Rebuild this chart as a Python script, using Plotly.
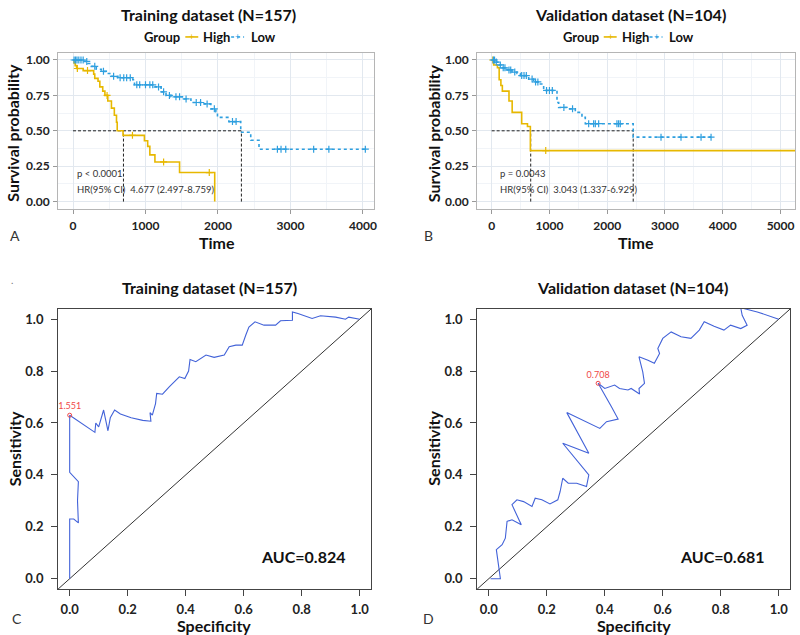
import numpy as np
import plotly.graph_objects as go

W, H = 800, 635
def px(x): return x / W
def py(y): return 1 - y / H

FONT = "Lato"
YEL = "#E7B800"
BLU = "#2E9FDF"
ROC_COL = "#4262d8"

# ---------------- Kaplan-Meier data ----------------
# Training (A)
A_high_t = [0, 15, 30, 50, 140, 285, 300, 345, 370, 410, 440, 480, 530, 570, 600, 610, 690, 985, 1030, 1060, 1130, 1470, 1955]
A_high_s = [1.0, 0.98, 0.96, 0.94, 0.925, 0.90, 0.87, 0.85, 0.81, 0.78, 0.75, 0.71, 0.66, 0.61, 0.56, 0.50, 0.468, 0.43, 0.39, 0.33, 0.28, 0.205, 0.0]
A_high_cens = [60, 200, 470, 820, 1250, 1880]
A_low_t = [0, 160, 207, 252, 321, 390, 459, 527, 619, 825, 848, 1123, 1215, 1283, 1352, 1535, 1627, 1810, 1902, 1971, 1993, 2150, 2314, 2452, 2566, 4033]
A_low_s = [1.0, 0.99, 0.975, 0.955, 0.935, 0.92, 0.905, 0.885, 0.875, 0.86, 0.825, 0.81, 0.775, 0.75, 0.74, 0.725, 0.70, 0.69, 0.655, 0.635, 0.595, 0.565, 0.49, 0.433, 0.37, 0.37]
A_low_cens = [15, 35, 55, 80, 110, 140, 190, 300, 420, 560, 650, 700, 740, 790, 880, 920, 1000, 1060, 1100, 1180, 1250, 1330, 1420, 1470, 1560, 1700, 1760, 1850, 1950, 2200, 2250, 2820, 2870, 2935, 3320, 3530, 4033]
A_medians = [696, 2323]

# Validation (B)
B_high_t = [0, 35, 100, 130, 160, 185, 300, 355, 520, 620, 670, 5400]
B_high_s = [1.0, 0.965, 0.945, 0.86, 0.82, 0.78, 0.71, 0.63, 0.55, 0.53, 0.36, 0.36]
B_high_cens = [20, 936]
B_low_t = [0, 64, 122, 179, 266, 352, 439, 497, 641, 727, 843, 900, 1131, 1160, 1300, 1448, 1563, 1621, 2450, 3797]
B_low_s = [1.0, 0.985, 0.965, 0.945, 0.93, 0.915, 0.905, 0.89, 0.865, 0.845, 0.83, 0.785, 0.70, 0.665, 0.655, 0.63, 0.595, 0.55, 0.455, 0.455]
B_low_cens = [30, 50, 80, 150, 200, 230, 300, 330, 400, 520, 560, 600, 700, 760, 800, 950, 1000, 1050, 1250, 1400, 1679, 1765, 1794, 1852, 2168, 2197, 2226, 2931, 3277, 3624, 3797]
B_medians = [676, 2450]

A_pval = "p < 0.0001"
A_hr = "HR(95% CI)  4.677 (2.497-8.759)"
B_pval = "p = 0.0043"
B_hr = "HR(95% CI)  3.043 (1.337-6.929)"

# ---------------- ROC data ----------------
C_x = [0, 0, 0.014, 0.03, 0.027, 0.03, 0, 0, 0.087, 0.09, 0.10, 0.117, 0.132, 0.14, 0.155, 0.175, 0.212, 0.252, 0.28, 0.277,
       0.285, 0.296, 0.30, 0.32, 0.344, 0.378, 0.397, 0.41, 0.415, 0.435, 0.47, 0.498, 0.533, 0.55, 0.573, 0.595, 0.607, 0.618,
       0.639, 0.67, 0.71, 0.727, 0.768, 0.768, 0.787, 0.836, 0.865, 0.917, 0.951, 0.962, 1.0]
C_y = [0, 0.23, 0.23, 0.215, 0.30, 0.374, 0.41, 0.63, 0.564, 0.60, 0.585, 0.65, 0.57, 0.62, 0.65, 0.635, 0.62, 0.61, 0.607, 0.64,
       0.63, 0.675, 0.714, 0.711, 0.74, 0.778, 0.771, 0.80, 0.845, 0.836, 0.862, 0.853, 0.862, 0.894, 0.90, 0.90, 0.938, 0.97,
       0.99, 0.977, 0.977, 0.994, 0.996, 1.028, 1.022, 1.003, 1.013, 1.008, 1.0, 1.008, 1.0]
C_cut = (0.0, 0.63, "1.551")
C_auc = "AUC=0.824"

D_x = [0.006, 0.04, 0.026, 0.046, 0.057, 0.063, 0.08, 0.112, 0.08, 0.097, 0.12, 0.149, 0.16, 0.183, 0.211, 0.238, 0.246, 0.255,
       0.274, 0.303, 0.337, 0.345, 0.255, 0.345, 0.269, 0.286, 0.383, 0.406, 0.446, 0.423, 0.389, 0.377, 0.40, 0.434, 0.451,
       0.48, 0.491, 0.52, 0.518, 0.537, 0.531, 0.518, 0.549, 0.571, 0.589, 0.583, 0.60, 0.629, 0.663, 0.697, 0.726, 0.743,
       0.777, 0.811, 0.834, 0.869, 0.891, 0.874, 0.869, 0.897, 0.926, 1.0]
D_y = [0, 0, 0.112, 0.131, 0.156, 0.221, 0.227, 0.208, 0.285, 0.304, 0.297, 0.278, 0.31, 0.304, 0.288, 0.304, 0.336, 0.387,
       0.368, 0.368, 0.355, 0.40, 0.522, 0.483, 0.64, 0.631, 0.579, 0.605, 0.615, 0.663, 0.733, 0.753, 0.733, 0.746, 0.733,
       0.727, 0.733, 0.712, 0.733, 0.753, 0.797, 0.855, 0.842, 0.83, 0.868, 0.887, 0.926, 0.951, 0.932, 0.926, 0.958, 0.99,
       0.973, 0.958, 0.977, 0.964, 0.977, 1.015, 1.044, 1.035, 1.028, 1.0]
D_cut = (0.377, 0.753, "0.708")
D_auc = "AUC=0.681"

# ---------------- figure ----------------
fig = go.Figure()

def step_at(t, s, c):
    t = np.asarray(t); s = np.asarray(s)
    i = np.searchsorted(t, c, side="right") - 1
    return s[np.clip(i, 0, len(s) - 1)]

def km(t, s, cens, color, dash, xa, ya):
    fig.add_trace(go.Scatter(x=t, y=s, mode="lines", line=dict(color=color, width=1.6, dash=dash, shape="hv"),
                             xaxis=xa, yaxis=ya, showlegend=False, hoverinfo="skip"))
    fig.add_trace(go.Scatter(x=cens, y=step_at(t, s, cens), mode="markers",
                             marker=dict(symbol="cross-thin", size=5, line=dict(color=color, width=1.2)),
                             xaxis=xa, yaxis=ya, showlegend=False, hoverinfo="skip"))

def medians(meds, xa, ya):
    m1, m2 = meds
    lk = dict(color="#222", width=1, dash="3px,2px")
    fig.add_trace(go.Scatter(x=[0, m2], y=[0.5, 0.5], mode="lines", line=lk, xaxis=xa, yaxis=ya, showlegend=False, hoverinfo="skip"))
    for m in meds:
        fig.add_trace(go.Scatter(x=[m, m], y=[0, 0.5], mode="lines", line=lk, xaxis=xa, yaxis=ya, showlegend=False, hoverinfo="skip"))

medians(A_medians, "x", "y")
km(A_high_t, A_high_s, A_high_cens, YEL, "solid", "x", "y")
km(A_low_t, A_low_s, A_low_cens, BLU, "3px,3px", "x", "y")
medians(B_medians, "x2", "y2")
km(B_high_t, B_high_s, B_high_cens, YEL, "solid", "x2", "y2")
km(B_low_t, B_low_s, B_low_cens, BLU, "3px,3px", "x2", "y2")

def roc(xs, ys, cut, xa, ya):
    fig.add_trace(go.Scatter(x=[-0.2, 1.2], y=[-0.2, 1.2], mode="lines", line=dict(color="#333", width=1),
                             xaxis=xa, yaxis=ya, showlegend=False, hoverinfo="skip"))
    fig.add_trace(go.Scatter(x=xs, y=ys, mode="lines", line=dict(color=ROC_COL, width=1.1),
                             xaxis=xa, yaxis=ya, showlegend=False, hoverinfo="skip"))
    fig.add_trace(go.Scatter(x=[cut[0]], y=[cut[1]], mode="markers+text", text=[cut[2]], textposition="top center",
                             textfont=dict(family=FONT, size=9, color="#f04848"),
                             marker=dict(symbol="circle-open", size=4, color="#f04848", line=dict(width=1)),
                             xaxis=xa, yaxis=ya, showlegend=False, hoverinfo="skip"))

roc(C_x, C_y, C_cut, "x3", "y3")
roc(D_x, D_y, D_cut, "x4", "y4")

tick_km = dict(family=FONT, size=12, color="#222", weight="bold")
tick_roc = dict(family=FONT, size=13, color="#222", weight="bold")

def km_axes(xr, xmax, xd, yd):
    xa = dict(domain=xd, range=xr, tickmode="array", tickvals=list(range(0, xmax + 1, 1000)),
              showline=True, linecolor="#b5b5b5", mirror=True, ticks="outside", ticklen=4, tickcolor="#999",
              showgrid=True, gridcolor="#e2e8ef", gridwidth=1, zeroline=False, tickfont=tick_km,
              ticklabelstandoff=2,
              minor=dict(showgrid=True, gridcolor="#f1f4f8", tickvals=list(range(500, xmax + 600, 1000))))
    ya = dict(domain=yd, range=[-0.05, 1.05], tickmode="array", tickvals=[0, 0.25, 0.5, 0.75, 1.0],
              ticktext=["0.00", "0.25", "0.50", "0.75", "1.00"],
              showline=True, linecolor="#b5b5b5", mirror=True, ticks="outside", ticklen=4, tickcolor="#999",
              showgrid=True, gridcolor="#e2e8ef", zeroline=False, tickfont=tick_km, ticklabelstandoff=1,
              minor=dict(showgrid=True, gridcolor="#f1f4f8", tickvals=[0.125, 0.375, 0.625, 0.875]))
    return xa, ya

def roc_axes(xd, yd):
    base = dict(range=[-0.04, 1.04], tickmode="array", tickvals=[0, 0.2, 0.4, 0.6, 0.8, 1.0],
                ticktext=["0.0", "0.2", "0.4", "0.6", "0.8", "1.0"],
                showline=True, linecolor="#444", linewidth=1, mirror=True, ticks="outside", ticklen=6,
                tickcolor="#444", showgrid=False, zeroline=False, tickfont=tick_roc, ticklabelstandoff=5)
    xa = dict(base, domain=xd, ticklabelstandoff=2)
    return xa, dict(base, domain=yd)

kmy = [py(208), py(52)]
xa1, ya1 = km_axes([-206, 4147], 4000, [px(58.3), px(375)], kmy)
xa2, ya2 = km_axes([-250, 5250], 5000, [px(479), px(798)], kmy)
rocy = [py(589), py(308.3)]
xa3, ya3 = roc_axes([px(58.3), px(372.7)], rocy)
xa4, ya4 = roc_axes([px(479), px(793.3)], rocy)

ya1.update(anchor="x"); xa1.update(anchor="y")
xa2.update(anchor="y2"); ya2.update(anchor="x2")
xa3.update(anchor="y3"); ya3.update(anchor="x3")
xa4.update(anchor="y4"); ya4.update(anchor="x4")

ann = []
def txt(x, y, s, size, bold=False, color="#222", xanchor="center", angle=0, yanchor="middle"):
    f = dict(family=FONT, size=size, color=color)
    if bold:
        f["weight"] = "bold"
    ann.append(dict(x=px(x), y=py(y), xref="paper", yref="paper", text=s, showarrow=False,
                    font=f, xanchor=xanchor, yanchor=yanchor, textangle=angle))

# titles
txt(209, 14, "Training dataset (N=157)", 16, True, "#111")
txt(633, 14, "Validation dataset (N=104)", 16, True, "#111")
txt(210, 287, "Training dataset (N=157)", 16, True, "#111")
txt(635, 287, "Validation dataset (N=104)", 16, True, "#111")

# axis titles
txt(13, 132, "Survival probability", 16, True, "#111", angle=-90)
txt(435, 132, "Survival probability", 16, True, "#111", angle=-90)
txt(218, 242, "Time", 16, True, "#111")
txt(638, 242, "Time", 16, True, "#111")
txt(14, 448, "Sensitivity", 16, True, "#111", angle=-90)
txt(435, 448, "Sensitivity", 16, True, "#111", angle=-90)
txt(215, 625.5, "Specificity", 16, True, "#111")
txt(636, 625.5, "Specificity", 16, True, "#111")

# panel letters
txt(15, 235, "A", 14, False, "#333")
txt(430, 235, "B", 14, False, "#333")
txt(17, 618, "C", 14, False, "#333")
txt(430, 618, "D", 14, False, "#333")
txt(12, 279, ".", 10, False, "#777")

# p / HR
txt(75, 173, A_pval, 9.5, False, "#333", xanchor="left")
txt(75, 189, A_hr, 9.5, False, "#333", xanchor="left")
txt(500, 173, B_pval, 9.5, False, "#333", xanchor="left")
txt(500, 189, B_hr, 9.5, False, "#333", xanchor="left")

# AUC
txt(305, 556, C_auc, 16, True, "#111")
txt(725, 556, D_auc, 16, True, "#111")

# legends (manual, ggsurvplot style)
shapes = []
def legend(x0):
    txt(x0 + 35, 36, "Group", 13, True, "#111", xanchor="right")
    shapes.append(dict(type="line", xref="paper", yref="paper", x0=px(x0 + 38), x1=px(x0 + 51), y0=py(36), y1=py(36),
                       line=dict(color=YEL, width=1.6)))
    txt(x0 + 44.5, 36, "+", 9, False, YEL)
    txt(x0 + 54, 36, "High", 13, True, "#111", xanchor="left")
    shapes.append(dict(type="line", xref="paper", yref="paper", x0=px(x0 + 84), x1=px(x0 + 97), y0=py(36), y1=py(36),
                       line=dict(color=BLU, width=1.6, dash="3px,3px")))
    txt(x0 + 90.5, 36, "+", 9, False, BLU)
    txt(x0 + 102, 36, "Low", 13, True, "#111", xanchor="left")

legend(148)
legend(568)

fig.update_layout(width=W, height=H, margin=dict(l=0, r=0, t=0, b=0),
                  paper_bgcolor="white", plot_bgcolor="white", showlegend=False,
                  xaxis=xa1, yaxis=ya1, xaxis2=xa2, yaxis2=ya2, xaxis3=xa3, yaxis3=ya3, xaxis4=xa4, yaxis4=ya4,
                  annotations=ann, shapes=shapes)

fig.write_html("out.html", config={"displayModeBar": False},
               post_script="document.body.style.margin='0px';document.body.style.padding='0px';")
